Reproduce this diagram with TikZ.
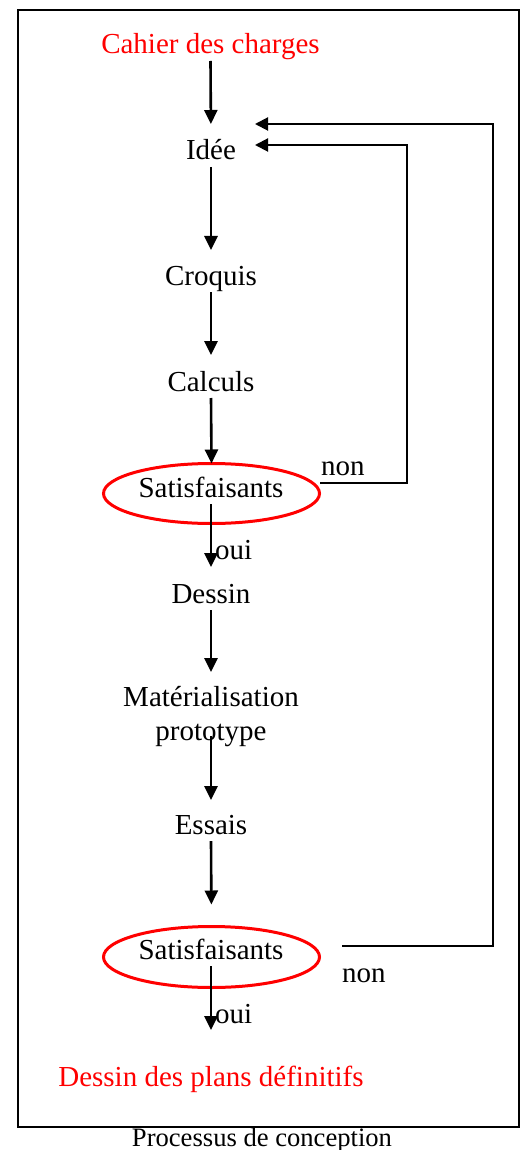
\documentclass[tikz,border=0pt]{standalone}
\usepackage{fontspec}
\setmainfont{Liberation Serif}
\usetikzlibrary{arrows.meta,shapes.geometric}
\definecolor{pured}{RGB}{255,0,0}
\begin{document}
\begin{tikzpicture}[x=1pt,y=-1pt,
  txt/.style={inner sep=0pt, outer sep=0pt, text height=20pt, text depth=7pt, font=\fontsize{29}{34}\selectfont},
  redtxt/.style={txt, text=pured},
  lbl/.style={inner sep=0pt, outer sep=0pt, font=\fontsize{29}{34}\selectfont},
  decision/.style={ellipse, draw=pured, line width=3pt, minimum width=216pt, minimum height=60pt, inner sep=0pt, outer sep=0pt},
  arr/.style={line width=2.6pt, -{Triangle[width=13pt,length=14pt]}},
  fb/.style={line width=2pt, -{Triangle[width=13pt,length=13pt]}}]
\useasboundingbox (0,0) rectangle (525,1150);
\draw[line width=2pt] (17.5,10) rectangle (518.5,1126.5);

\node[redtxt, anchor=base] (cahier) at (210.5,54) {Cahier des charges};
\node[txt, anchor=base] (idee) at (211,160) {Idée};
\node[txt, anchor=base] (croquis) at (211,285) {Croquis};
\node[txt, anchor=base] (calculs) at (211,391) {Calculs};
\node[decision] (ell1) at (211.5,493.5) {};
\node[txt, anchor=base] (s1t) at (211,497) {Satisfaisants};
\node[txt, anchor=base] (dessin) at (211,603) {Dessin};
\node[lbl, align=center, anchor=north] (mat) at (211,686) {Matérialisation\\prototype};
\node[txt, anchor=base] (essais) at (211,834) {Essais};
\node[decision, minimum height=61pt] (ell2) at (211.5,957) {};
\node[txt, anchor=base] (s2t) at (211,959) {Satisfaisants};
\node[redtxt, anchor=base] (plans) at (211,1086) {Dessin des plans définitifs};
\node[inner sep=0pt, anchor=base, font=\fontsize{26.6}{30}\selectfont] (caption) at (262,1146) {Processus de conception};

\node[lbl, anchor=base west] (non1) at (321,475) {non};
\node[lbl, anchor=base west] (non2) at (342,982) {non};
\node[lbl, anchor=base west] (oui1) at (215,559) {oui};
\node[lbl, anchor=base west] (oui2) at (215,1023) {oui};

\coordinate (in1) at (255,145);
\coordinate (in2) at (255,124);
\coordinate (o1) at (320,483);
\coordinate (o2) at (342,946);

\draw[arr, shorten >=16pt] (cahier.south) -- (idee.north);
\draw[arr, shorten >=15pt] (idee.south) -- (croquis.north);
\draw[arr, shorten >=16pt] (croquis.south) -- (calculs.north);
\draw[arr] (calculs.south) -- (ell1.north);
\draw[arr, shorten >=16pt] (s1t.south) -- (dessin.north);
\draw[arr, shorten >=14pt] (dessin.south) -- (mat.north);
\draw[arr, shorten <=-10pt, shorten >=14pt] (mat.south) -- (essais.north);
\draw[arr, shorten >=22pt] (essais.south) -- (ell2.north);
\draw[arr, shorten >=36pt] (s2t.south) -- (plans.north);

\draw[fb] (o1) -- ++(87,0) |- (in1);
\draw[fb] (o2) -- ++(151,0) |- (in2);
\end{tikzpicture}
\end{document}
